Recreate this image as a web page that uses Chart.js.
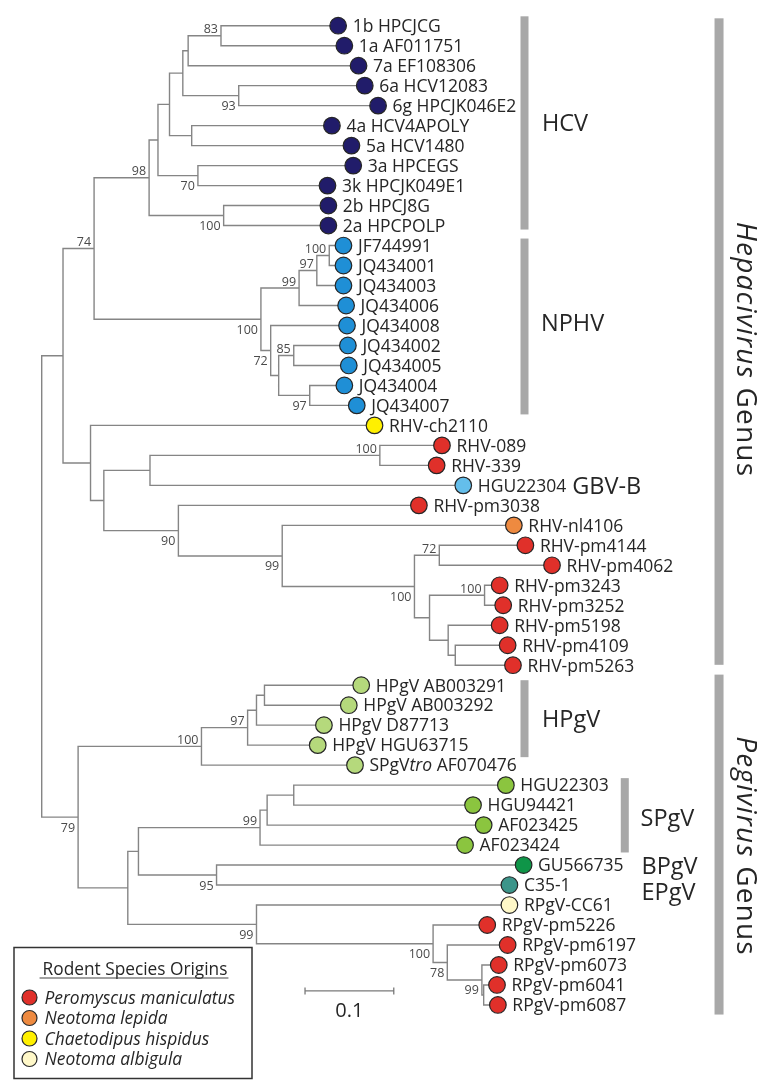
<!DOCTYPE html>
<html><head><meta charset="utf-8">
<script src="https://cdn.jsdelivr.net/npm/chart.js@4.4.0/dist/chart.umd.min.js"></script>
<style>html,body{margin:0;padding:0;background:#fff}canvas{display:block}</style>
</head><body>
<canvas id="c" width="769" height="1091"></canvas>
<script>
// ---------- DATA ----------
const leafNames = ['1b HPCJCG','1a AF011751','7a EF108306','6a HCV12083','6g HPCJK046E2','4a HCV4APOLY','5a HCV1480','3a HPCEGS','3k HPCJK049E1','2b HPCJ8G','2a HPCPOLP',
 'JF744991','JQ434001','JQ434003','JQ434006','JQ434008','JQ434002','JQ434005','JQ434004','JQ434007',
 'RHV-ch2110','RHV-089','RHV-339','HGU22304','RHV-pm3038','RHV-nl4106','RHV-pm4144','RHV-pm4062','RHV-pm3243','RHV-pm3252','RHV-pm5198','RHV-pm4109','RHV-pm5263',
 'HPgV AB003291','HPgV AB003292','HPgV D87713','HPgV HGU63715','SPgV*tro* AF070476',
 'HGU22303','HGU94421','AF023425','AF023424','GU566735','C35-1','RPgV-CC61','RPgV-pm5226','RPgV-pm6197','RPgV-pm6073','RPgV-pm6041','RPgV-pm6087'];
// distance from root (substitutions/site) of each tip
const leafDepth = [0.334,0.341,0.357,0.364,0.379,0.327,0.349,0.351,0.322,0.323,0.323,
 0.340,0.340,0.340,0.343,0.344,0.345,0.346,0.341,0.355,
 0.375,0.451,0.445,0.475,0.425,0.532,0.545,0.575,0.516,0.520,0.516,0.525,0.531,
 0.360,0.346,0.318,0.311,0.353,
 0.523,0.486,0.498,0.477,0.543,0.527,0.527,0.502,0.525,0.515,0.513,0.514];
const leafOrigin = ['hcv','hcv','hcv','hcv','hcv','hcv','hcv','hcv','hcv','hcv','hcv',
 'nphv','nphv','nphv','nphv','nphv','nphv','nphv','nphv','nphv',
 'ch','pm','pm','gbvb','pm','nl','pm','pm','pm','pm','pm','pm','pm',
 'hpgv','hpgv','hpgv','hpgv','hpgv',
 'spgv','spgv','spgv','spgv','bpgv','epgv','na','pm','pm','pm','pm','pm'];
// internal nodes (children listed before parents)
const nodeDepth = [0.202,0.165,0.222,0.159,0.169,0.144,0.176,0.131,0.205,0.121,
 0.324,0.310,0.290,0.284,0.302,0.267,0.258,0.247,0.059,
 0.381,0.122,0.448,0.499,0.466,0.458,0.437,0.420,0.271,0.154,0.070,0.055,0.024,
 0.251,0.242,0.232,0.180,0.284,0.254,0.246,0.197,0.109,
 0.498,0.496,0.457,0.441,0.242,0.097,0.041,0.000];
const nodeKids = [['L0','L1'],['N0','L2'],['L3','L4'],['N1','N2'],['L5','L6'],['N3','N4'],['L7','L8'],['N5','N6'],['L9','L10'],['N7','N8'],
 ['L11','L12'],['N10','L13'],['N11','L14'],['L16','L17'],['L18','L19'],['N13','N14'],['L15','N15'],['N12','N16'],['N9','N17'],
 ['L21','L22'],['N19','L23'],['L26','L27'],['L28','L29'],['L31','L32'],['L30','N23'],['N22','N24'],['N21','N25'],['L25','N26'],['L24','N27'],['N20','N28'],['L20','N29'],['N18','N30'],
 ['L33','L34'],['N32','L35'],['N33','L36'],['N34','L37'],['L38','L39'],['N36','L40'],['N37','L41'],['L42','L43'],['N38','N39'],
 ['L48','L49'],['L47','N41'],['L46','N42'],['L45','N43'],['L44','N44'],['N40','N45'],['N35','N46'],['N31','N47']];
const nodeSupport = [83,null,93,null,null,null,70,null,100,98,
 100,97,99,85,97,null,72,100,74,
 100,null,72,100,null,null,null,100,99,90,null,null,null,
 null,null,97,100,null,null,99,95,null,
 null,99,78,100,99,null,79,null];
const supportSide = ['a','','b','','','','b','','b','a',
 'a','a','a','a','b','','b','b','a',
 'a','','a','a','','','','b','b','b','','','',
 '','','a','a','','','a','b','',
 '','b','b','b','b','','b',''];
const originColors = {hcv:'#211C6A',nphv:'#1F8FD6',ch:'#FFF000',pm:'#E0302A',gbvb:'#64BEEB',nl:'#EE8A40',
 hpgv:'#B5D97C',spgv:'#8BC53F',bpgv:'#0F9548',epgv:'#3C958A',na:'#FFF8C8'};
const legendOrigins = ['pm','nl','ch','na'];
const legendLabels = ['Peromyscus maniculatus','Neotoma lepida','Chaetodipus hispidus','Neotoma albigula'];
const cladeNames = ['HCV','NPHV','GBV-B','HPgV','SPgV','BPgV','EPgV'];
const genusNames = ['*Hepacivirus* Genus','*Pegivirus* Genus'];
const scaleBarLength = 0.1;

// ---------- LAYOUT ----------
const cladeLabelPos = [[0.5637,4.85],[0.5626,14.87],[0.5978,23.03],[0.5637,34.68],[0.6747,39.6],[0.6758,42.0],[0.6758,43.3]];
const cladeBarPos = [[0.544,-0.47,10.2],[0.544,10.65,19.45],[0.544,32.75,36.6],[0.657,37.65,41.37]];
const genusBarPos = [[0.7632,-0.37,31.98],[0.7632,32.47,49.48]];
const genusLabelPos = [[0.7945,16.2],[0.7945,41.05]];
const scaleBarPos = [0.2967,48.3];
const FONT = "'Open Sans', 'DejaVu Sans', sans-serif";
const TEXT = '#262626';

// ---------- TREE GEOMETRY ----------
const nodeY = [];
function ref(r){return {leaf:r[0]==='L', i:+r.slice(1)};}
function yOf(r){const k=ref(r);return k.leaf?k.i:nodeY[k.i];}
function dOf(r){const k=ref(r);return k.leaf?leafDepth[k.i]:nodeDepth[k.i];}
nodeKids.forEach((k,i)=>{nodeY[i]=(yOf(k[0])+yOf(k[k.length-1]))/2;});
const branchPts = [];
nodeKids.forEach((k,i)=>{
  const a=k[0], b=k[k.length-1];
  branchPts.push({x:dOf(a),y:yOf(a)},{x:nodeDepth[i],y:yOf(a)},{x:nodeDepth[i],y:yOf(b)},{x:dOf(b),y:yOf(b)},{x:NaN,y:NaN});
});
const tipPts = leafDepth.map((d,i)=>({x:d,y:i}));

function drawRich(ctx, s, x, y, size, align, spacing){
  const parts = s.split('*');
  const sp = spacing||0;
  try{ ctx.letterSpacing = sp+'px'; }catch(e){}
  let w=0;
  parts.forEach((p,j)=>{ctx.font=(j%2?'italic ':'')+size+'px '+FONT; w+=ctx.measureText(p).width;});
  let cx = align==='center'? x-w/2 : x;
  ctx.textAlign='left';
  parts.forEach((p,j)=>{ctx.font=(j%2?'italic ':'')+size+'px '+FONT; ctx.fillText(p,cx,y); cx+=ctx.measureText(p).width;});
  try{ ctx.letterSpacing = '0px'; }catch(e){}
}

const deco = {
  id:'deco',
  afterDatasetsDraw(chart){
    const {ctx, scales:{x,y}} = chart;
    const X=v=>x.getPixelForValue(v), Y=v=>y.getPixelForValue(v);
    ctx.save();
    ctx.fillStyle=TEXT; ctx.textBaseline='alphabetic';
    // tip labels
    const LS=17.5;
    leafNames.forEach((n,i)=>drawRich(ctx,n,X(leafDepth[i])+14.5,Y(i)+LS*0.36,LS,'left'));
    // bootstrap support
    ctx.font='12.5px '+FONT; ctx.fillStyle='#4a4a4a'; ctx.textAlign='right';
    nodeSupport.forEach((s,i)=>{
      if(s==null) return;
      const yy = Y(nodeY[i]) + (supportSide[i]==='a' ? -2.5 : 14.5);
      ctx.fillText(String(s), X(nodeDepth[i])-3, yy);
    });
    // grey bars
    ctx.fillStyle='#A8A8A8';
    cladeBarPos.forEach(([bx,a,b])=>ctx.fillRect(X(bx)-4,Y(a),8,Y(b)-Y(a)));
    genusBarPos.forEach(([bx,a,b])=>ctx.fillRect(X(bx)-4.5,Y(a),9,Y(b)-Y(a)));
    // clade labels
    ctx.fillStyle=TEXT; ctx.textAlign='left';
    const CS=23.5;
    ctx.font=CS+'px '+FONT;
    cladeNames.forEach((t,i)=>ctx.fillText(t,X(cladeLabelPos[i][0]),Y(cladeLabelPos[i][1])+CS*0.36));
    // genus labels (rotated)
    const GS=28;
    genusNames.forEach((t,i)=>{
      ctx.save();
      ctx.translate(X(genusLabelPos[i][0]),Y(genusLabelPos[i][1]));
      ctx.rotate(Math.PI/2);
      drawRich(ctx,t,0,GS*0.36,GS,'center',1.2);
      ctx.restore();
    });
    // scale bar
    const sx0=X(scaleBarPos[0]), sx1=X(scaleBarPos[0]+scaleBarLength), sy=Y(scaleBarPos[1]);
    ctx.strokeStyle='#7a7a7a'; ctx.lineWidth=1.3;
    ctx.beginPath(); ctx.moveTo(sx0,sy); ctx.lineTo(sx1,sy);
    ctx.moveTo(sx0,sy-3.5); ctx.lineTo(sx0,sy+3.5); ctx.moveTo(sx1,sy-3.5); ctx.lineTo(sx1,sy+3.5); ctx.stroke();
    ctx.fillStyle=TEXT; ctx.font='20px '+FONT; ctx.textAlign='center';
    ctx.fillText(String(scaleBarLength),(sx0+sx1)/2,sy+26);
    // legend box
    const ca=chart.chartArea;
    const bx=ca.left+4.5, by=ca.bottom-134, bw=238, bh=131;
    ctx.strokeStyle='#333'; ctx.lineWidth=1.5; ctx.strokeRect(bx,by,bw,bh);
    ctx.font='17.3px '+FONT; ctx.textAlign='center';
    const title='Rodent Species Origins';
    const tw=ctx.measureText(title).width, tx=bx+121;
    ctx.fillText(title,tx,by+27);
    ctx.lineWidth=1.2; ctx.strokeStyle='#444';
    ctx.beginPath(); ctx.moveTo(tx-tw/2-3,by+30.5); ctx.lineTo(tx+tw/2+1,by+30.5); ctx.stroke();
    legendOrigins.forEach((o,i)=>{
      const cy=by+50+i*20.5;
      ctx.beginPath(); ctx.arc(bx+15.5,cy,7.5,0,Math.PI*2);
      ctx.fillStyle=originColors[o]; ctx.fill();
      ctx.strokeStyle='#2a2a2a'; ctx.lineWidth=1.2; ctx.stroke();
      ctx.fillStyle=TEXT; ctx.textAlign='left'; ctx.font='italic 17.4px '+FONT;
      ctx.fillText(legendLabels[i],bx+30.5,cy+6);
    });
    ctx.restore();
  }
};

new Chart(document.getElementById('c'),{
  type:'scatter',
  data:{datasets:[
    {data:tipPts, pointRadius:8.3, pointHoverRadius:8.3, pointBackgroundColor:leafOrigin.map(o=>originColors[o]),
     pointBorderColor:'#262626', pointBorderWidth:1.2, showLine:false, order:0},
    {data:branchPts, showLine:true, spanGaps:false, borderColor:'#858585', borderWidth:1.4, pointRadius:0, pointHoverRadius:0, fill:false, order:1}
  ]},
  options:{
    responsive:false, animation:false, events:[], devicePixelRatio:1,
    layout:{padding:0},
    plugins:{legend:{display:false},tooltip:{enabled:false}},
    scales:{
      x:{type:'linear',min:-0.0363,max:0.8088,display:false},
      y:{type:'linear',reverse:true,min:-0.811,max:52.83,display:false}
    }
  },
  plugins:[deco]
});
</script>
</body></html>
